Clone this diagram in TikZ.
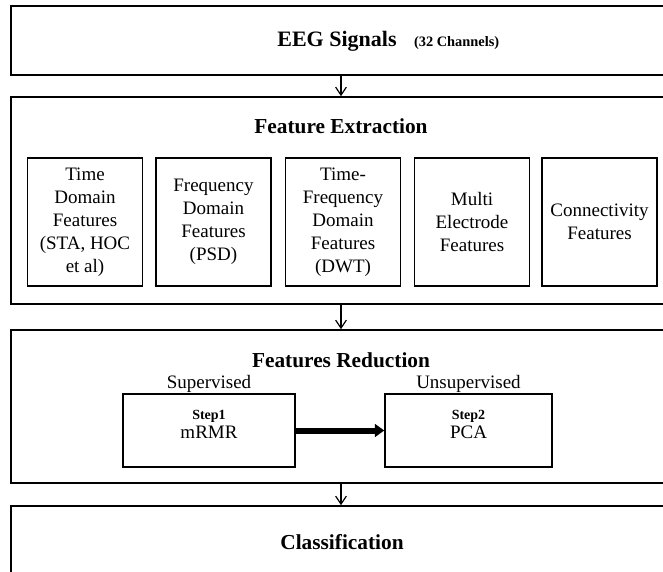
\documentclass[tikz,border=0pt]{standalone}
\usepackage{fontspec}
\setmainfont{Liberation Serif}
\usetikzlibrary{arrows.meta,positioning}

\begin{document}
\begin{tikzpicture}[x=0.75pt,y=-0.75pt,
        blocco/.style={draw,line width=1.2pt,minimum width=495pt},
        feat/.style={draw,line width=1.1pt,minimum width=86.25pt,minimum height=96pt,inner sep=1pt,align=center,font=\fontsize{14.25}{17.25}\selectfont},
        passo/.style={draw,line width=1.1pt,minimum height=54.75pt},
        titolo/.style={font=\fontsize{16}{18}\selectfont\bfseries},
        testo/.style={font=\fontsize{14.25}{17.25}\selectfont},
        freccia/.style={-{Straight Barb[length=6pt,width=8pt]},line width=0.9pt},
        grossa/.style={-{Triangle[length=7pt,width=9.5pt]},line width=4.5pt}]
        \useasboundingbox (0,0) rectangle (663,571);

        %%%%%%%%%% Blocchi %%%%%%%%%%
        \node (EEGbox) at (341,40.5) [blocco,minimum height=51.75pt] {};
        \node (FEbox) at (341,200.5) [blocco,minimum height=155.25pt] {};
        \node (FRbox) at (341,406.5) [blocco,minimum height=114.75pt] {};
        \node (CLbox) at (341,563) [blocco,minimum height=85.5pt] {};

        %%%%%%%%%% Titoli %%%%%%%%%%
        \node (EEG) at (337,41) [font=\fontsize{16.5}{19}\selectfont\bfseries] {EEG Signals};
        \node (CH) at ([xshift=6pt]EEG.base east) [anchor=base west,font=\fontsize{10.8}{12}\selectfont\bfseries] {(32 Channels)};
        \node (FE) at (341,126) [titolo] {Feature Extraction};
        \node (FR) at (341,360) [titolo] {Features Reduction};
        \node (CL) at (342,542) [titolo] {Classification};

        %%%%%%%%%% Caratteristiche %%%%%%%%%%
        \node (TD) at (85,222) [feat] {Time\\Domain\\Features\\(STA, HOC\\et al)};
        \node (FD) at (213.5,222) [feat] {Frequency\\Domain\\Features\\(PSD)};
        \node (TFD) at (343,222) [feat] {Time-\\Frequency\\Domain\\Features\\(DWT)};
        \node (ME) at (472,222) [feat] {Multi\\Electrode\\Features};
        \node (CF) at (599.5,222) [feat] {Connectivity\\Features};

        %%%%%%%%%% Riduzione %%%%%%%%%%
        \node (S1) at (209,430.5) [passo,minimum width=129pt] {};
        \node (S2) at (468.5,430.5) [passo,minimum width=125.25pt] {};
        \node (S1t) at (209,424.5) [align=center,inner sep=0pt] {\fontsize{10.5}{13}\selectfont\bfseries Step1\\[2pt]\fontsize{14.25}{16}\selectfont mRMR};
        \node (S2t) at (468.5,424.5) [align=center,inner sep=0pt] {\fontsize{10.5}{13}\selectfont\bfseries Step2\\[2pt]\fontsize{14.25}{16}\selectfont PCA};
        \node (SUP) at (209,384) [testo] {Supervised};
        \node (UNS) at (468.5,384) [testo] {Unsupervised};

        %%%%%%%%% Frecce %%%%%%%%%
        \draw[freccia] (EEGbox.south) -- (FEbox.north);
        \draw[freccia] (FEbox.south) -- (FRbox.north);
        \draw[freccia] (FRbox.south) -- (CLbox.north);
        \draw[grossa] (S1.east) -- (S2.west);
    \end{tikzpicture}
\end{document}
